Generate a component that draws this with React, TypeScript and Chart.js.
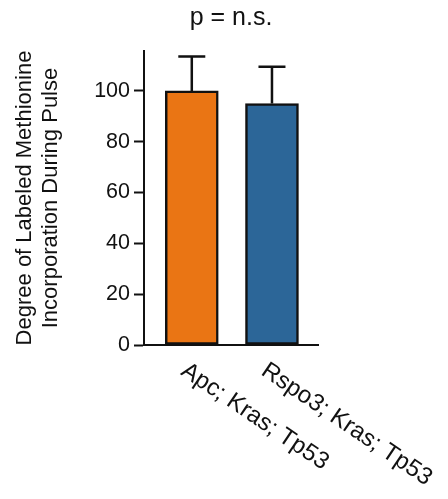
import React, { useEffect, useRef } from 'react';
import { Chart, registerables } from 'chart.js';

Chart.register(...registerables);

// ---- data ----
const categories = ['Apc; Kras; Tp53', 'Rspo3; Kras; Tp53'];
const means = [100, 95];
const errors = [13.5, 14.5];
const barColors = ['#EA7514', '#2C6698'];
const yTickValues = [0, 20, 40, 60, 80, 100];
const chartTitle = 'p = n.s.';
const yAxisTitle = ['Degree of Labeled Methionine', 'Incorporation During Pulse'];

const FONT = "'Liberation Sans', Arial, Helvetica, sans-serif";
const INK = '#111111';

const errorBarPlugin = {
  id: 'errorBars',
  afterDatasetsDraw(chart: any) {
    const ctx = chart.ctx;
    const meta = chart.getDatasetMeta(0);
    const yScale = chart.scales.y;
    ctx.save();
    ctx.strokeStyle = INK;
    ctx.lineWidth = 2.5;
    meta.data.forEach((bar: any, i: number) => {
      const top = yScale.getPixelForValue(means[i] + errors[i]);
      const half = 13.5;
      ctx.beginPath();
      ctx.moveTo(bar.x, bar.y);
      ctx.lineTo(bar.x, top);
      ctx.moveTo(bar.x - half, top);
      ctx.lineTo(bar.x + half, top);
      ctx.stroke();
    });
    ctx.restore();
  },
};

const xLabelPlugin = {
  id: 'slantedXLabels',
  afterDraw(chart: any) {
    const ctx = chart.ctx;
    const xScale = chart.scales.x;
    const bottom = chart.chartArea.bottom;
    ctx.save();
    ctx.font = `24px ${FONT}`;
    ctx.fillStyle = INK;
    ctx.textAlign = 'left';
    ctx.textBaseline = 'alphabetic';
    categories.forEach((label, i) => {
      const px = xScale.getPixelForValue(i + 1);
      ctx.save();
      ctx.translate(px - 12, bottom + 29);
      ctx.rotate((34 * Math.PI) / 180);
      ctx.fillText(label, 0, 0);
      ctx.restore();
    });
    ctx.restore();
  },
};

export default function App() {
  const canvasRef = useRef<HTMLCanvasElement | null>(null);

  useEffect(() => {
    if (!canvasRef.current) return;
    const chart = new Chart(canvasRef.current, {
      type: 'bar',
      data: {
        datasets: [
          {
            data: means.map((v, i) => ({ x: i + 1, y: v })),
            backgroundColor: barColors,
            borderColor: INK,
            borderWidth: 2.5,
            borderSkipped: false,
            barThickness: 53,
          } as any,
        ],
      },
      options: {
        animation: false,
        responsive: false,
        layout: { padding: { top: 0, left: 0, right: 130, bottom: 154 } },
        plugins: {
          legend: { display: false },
          tooltip: { enabled: false },
          title: {
            display: true,
            text: chartTitle,
            fullSize: false,
            color: INK,
            font: { family: FONT, size: 25, weight: 'normal', lineHeight: 1.2 },
            padding: { top: 3.3, bottom: 17.7 },
          },
        },
        scales: {
          x: {
            type: 'linear',
            min: 0.404,
            max: 2.574,
            offset: false,
            ticks: { display: false },
            grid: { display: false },
            border: { display: true, color: INK, width: 2 },
            afterFit(scale: any) {
              scale.height = 0;
            },
          },
          y: {
            min: 0,
            max: 115.7,
            afterBuildTicks(scale: any) {
              scale.ticks = yTickValues.map((v) => ({ value: v }));
            },
            ticks: {
              color: INK,
              padding: 4,
              font: { family: FONT, size: 21.5 },
            },
            grid: {
              display: true,
              drawOnChartArea: false,
              drawTicks: true,
              tickLength: 10,
              tickWidth: 2,
              tickColor: INK,
            },
            border: { display: true, color: INK, width: 2 },
            title: {
              display: true,
              text: yAxisTitle,
              color: INK,
              font: { family: FONT, size: 22, lineHeight: 1.15 },
              padding: { top: 12.75, bottom: 0 },
            },
            afterFit(scale: any) {
              scale.width = 144;
            },
          },
        },
      } as any,
      plugins: [errorBarPlugin, xLabelPlugin],
    });
    return () => chart.destroy();
  }, []);

  return (
    <div style={{ position: 'absolute', left: 0, top: 0, width: 448, height: 499, background: '#fff' }}>
      <canvas ref={canvasRef} width={448} height={499} style={{ display: 'block' }} />
    </div>
  );
}
